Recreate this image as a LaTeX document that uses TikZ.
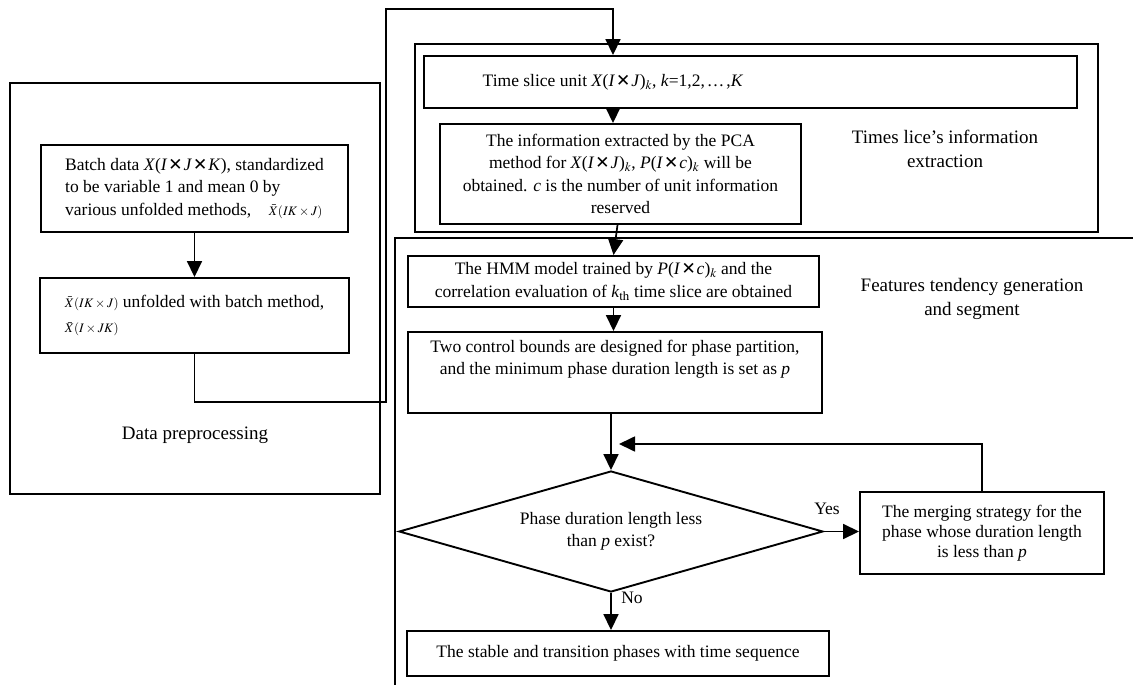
\documentclass[tikz,border=0pt]{standalone}
\usepackage{mathptmx}
\usepackage{fontspec}
\setmainfont{Liberation Serif}
\newfontfamily\crossfont{DejaVu Sans}
\usepackage{tikz}
\usetikzlibrary{arrows.meta,positioning,shapes.geometric,calc}
\newcommand{\mx}{\hspace{1pt}{\crossfont\fontsize{17}{17}\selectfont ✕}\hspace{1pt}}
\newcommand{\vx}[1]{\textit{#1}}
\newcommand{\xbar}[1]{{\fontsize{13}{13}\selectfont$\bar{X}(#1)$}}

\begin{document}
\begin{tikzpicture}[x=1pt,y=-1pt,
    every node/.style={font=\fontsize{17.5}{22.5}\selectfont},
    box/.style={draw, line width=1.9pt, inner sep=0pt, align=center},
    frame/.style={line width=2.3pt},
    link/.style={line width=1.7pt},
    arr/.style={link, -{Triangle[length=16pt,width=15pt]}},
    region/.style={font=\fontsize{19}{24}\selectfont, align=center}]
    \useasboundingbox (0,0) rectangle (1133,685);

    % regions
    \draw[frame] (10,83) rectangle (380,494);
    \draw[frame] (415,44) rectangle (1098,232);
    \draw[frame] (395,685) -- (395,238) -- (1133,238);
    \node[region] (prepLbl) at (195,435) {Data preprocessing};
    \node[region] (sliceLbl) at (945,149) {Times lice's information\\ extraction};
    \node[region] (featLbl) at (972,299) {Features tendency generation\\ and segment};

    % data preprocessing
    \node[box, minimum width=307, minimum height=87, align=left] (batch) at (194.5,188.5)
        {Batch data \vx{X}(\vx{I}\mx\vx{J}\mx\vx{K}), standardized\\
         to be variable 1 and mean 0 by\\
         various unfolded methods,\quad \xbar{IK\times J}};
    \node[box, minimum width=309, minimum height=75, align=left] (unfold) at (194.5,315.5)
        {\xbar{IK\times J} unfolded with batch method,\\[3pt]
         \xbar{I\times JK}};

    % time slice information
    \coordinate (spine) at (613,0);
    \node[box, minimum width=653, minimum height=52] (slice) at (750.5,82) {};
    \node (sliceTxt) at (613,82) {Time slice unit \vx{X}(\vx{I}\mx\vx{J})$_k$, \vx{k}=1,2,\hspace{2pt}\ldots\hspace{2pt},\vx{K}};
    \node[box, minimum width=361, minimum height=100] (pca) at (620.5,174)
        {The information extracted by the PCA\\
         method for \vx{X}(\vx{I}\mx\vx{J})$_k$, \vx{P}(\vx{I}\mx\vx{c})$_k$ will be\\
         obtained. \vx{c} is the number of unit information\\
         reserved};

    % tendency and segment
    \node[box, minimum width=411, minimum height=51] (hmm) at (613.5,281.5)
        {The HMM model trained by \vx{P}(\vx{I}\mx\vx{c})$_k$ and the\\
         correlation evaluation of \vx{k}$_{\mathrm{th}}$ time slice are obtained};
    \node[box, minimum width=414, minimum height=81] (bounds) at (615,372.5)
        {Two control bounds are designed for phase partition,\\
         and the minimum phase duration length is set as \vx{p}\\[8pt]};
    \node[draw, diamond, line width=1.9pt, inner sep=0pt, aspect=3.5,
          minimum width=424, minimum height=121, align=center] (check) at (611,531.5)
        {Phase duration length less\\ than \vx{p} exist?};
    \node[box, minimum width=244, minimum height=82,
          font=\fontsize{17.5}{20}\selectfont] (merge) at (982,533)
        {The merging strategy for the\\ phase whose duration length\\ is less than \vx{p}};
    \node[box, minimum width=422, minimum height=45] (final) at (618,653.5)
        {The stable and transition phases with time sequence};

    % connectors
    \draw[arr] (batch.south) -- (batch.south |- unfold.north);
    \draw[arr] (unfold.south) -- ++(0,48) -| (386,9) -| (slice.north -| spine);
    \draw[arr] (slice.south -| spine) -- (pca.north -| spine);
    \draw[arr] ($(pca.south)+(-3,0)$) -- (hmm.north);
    \draw[arr] (hmm.south) -- (hmm.south |- bounds.north);
    \draw[arr] (bounds.south -| check.north) -- (check.north);
    \draw[arr] (check.east) -- (merge.west |- check.east);
    \node (yesLbl) at (827,509) {Yes};
    \coordinate (back) at (619,444);
    \draw[arr] (merge.north) |- (back);
    \draw[arr] (check.south) -- (check.south |- final.north);
    \node (noLbl) at (632,598) {No};
\end{tikzpicture}
\end{document}
